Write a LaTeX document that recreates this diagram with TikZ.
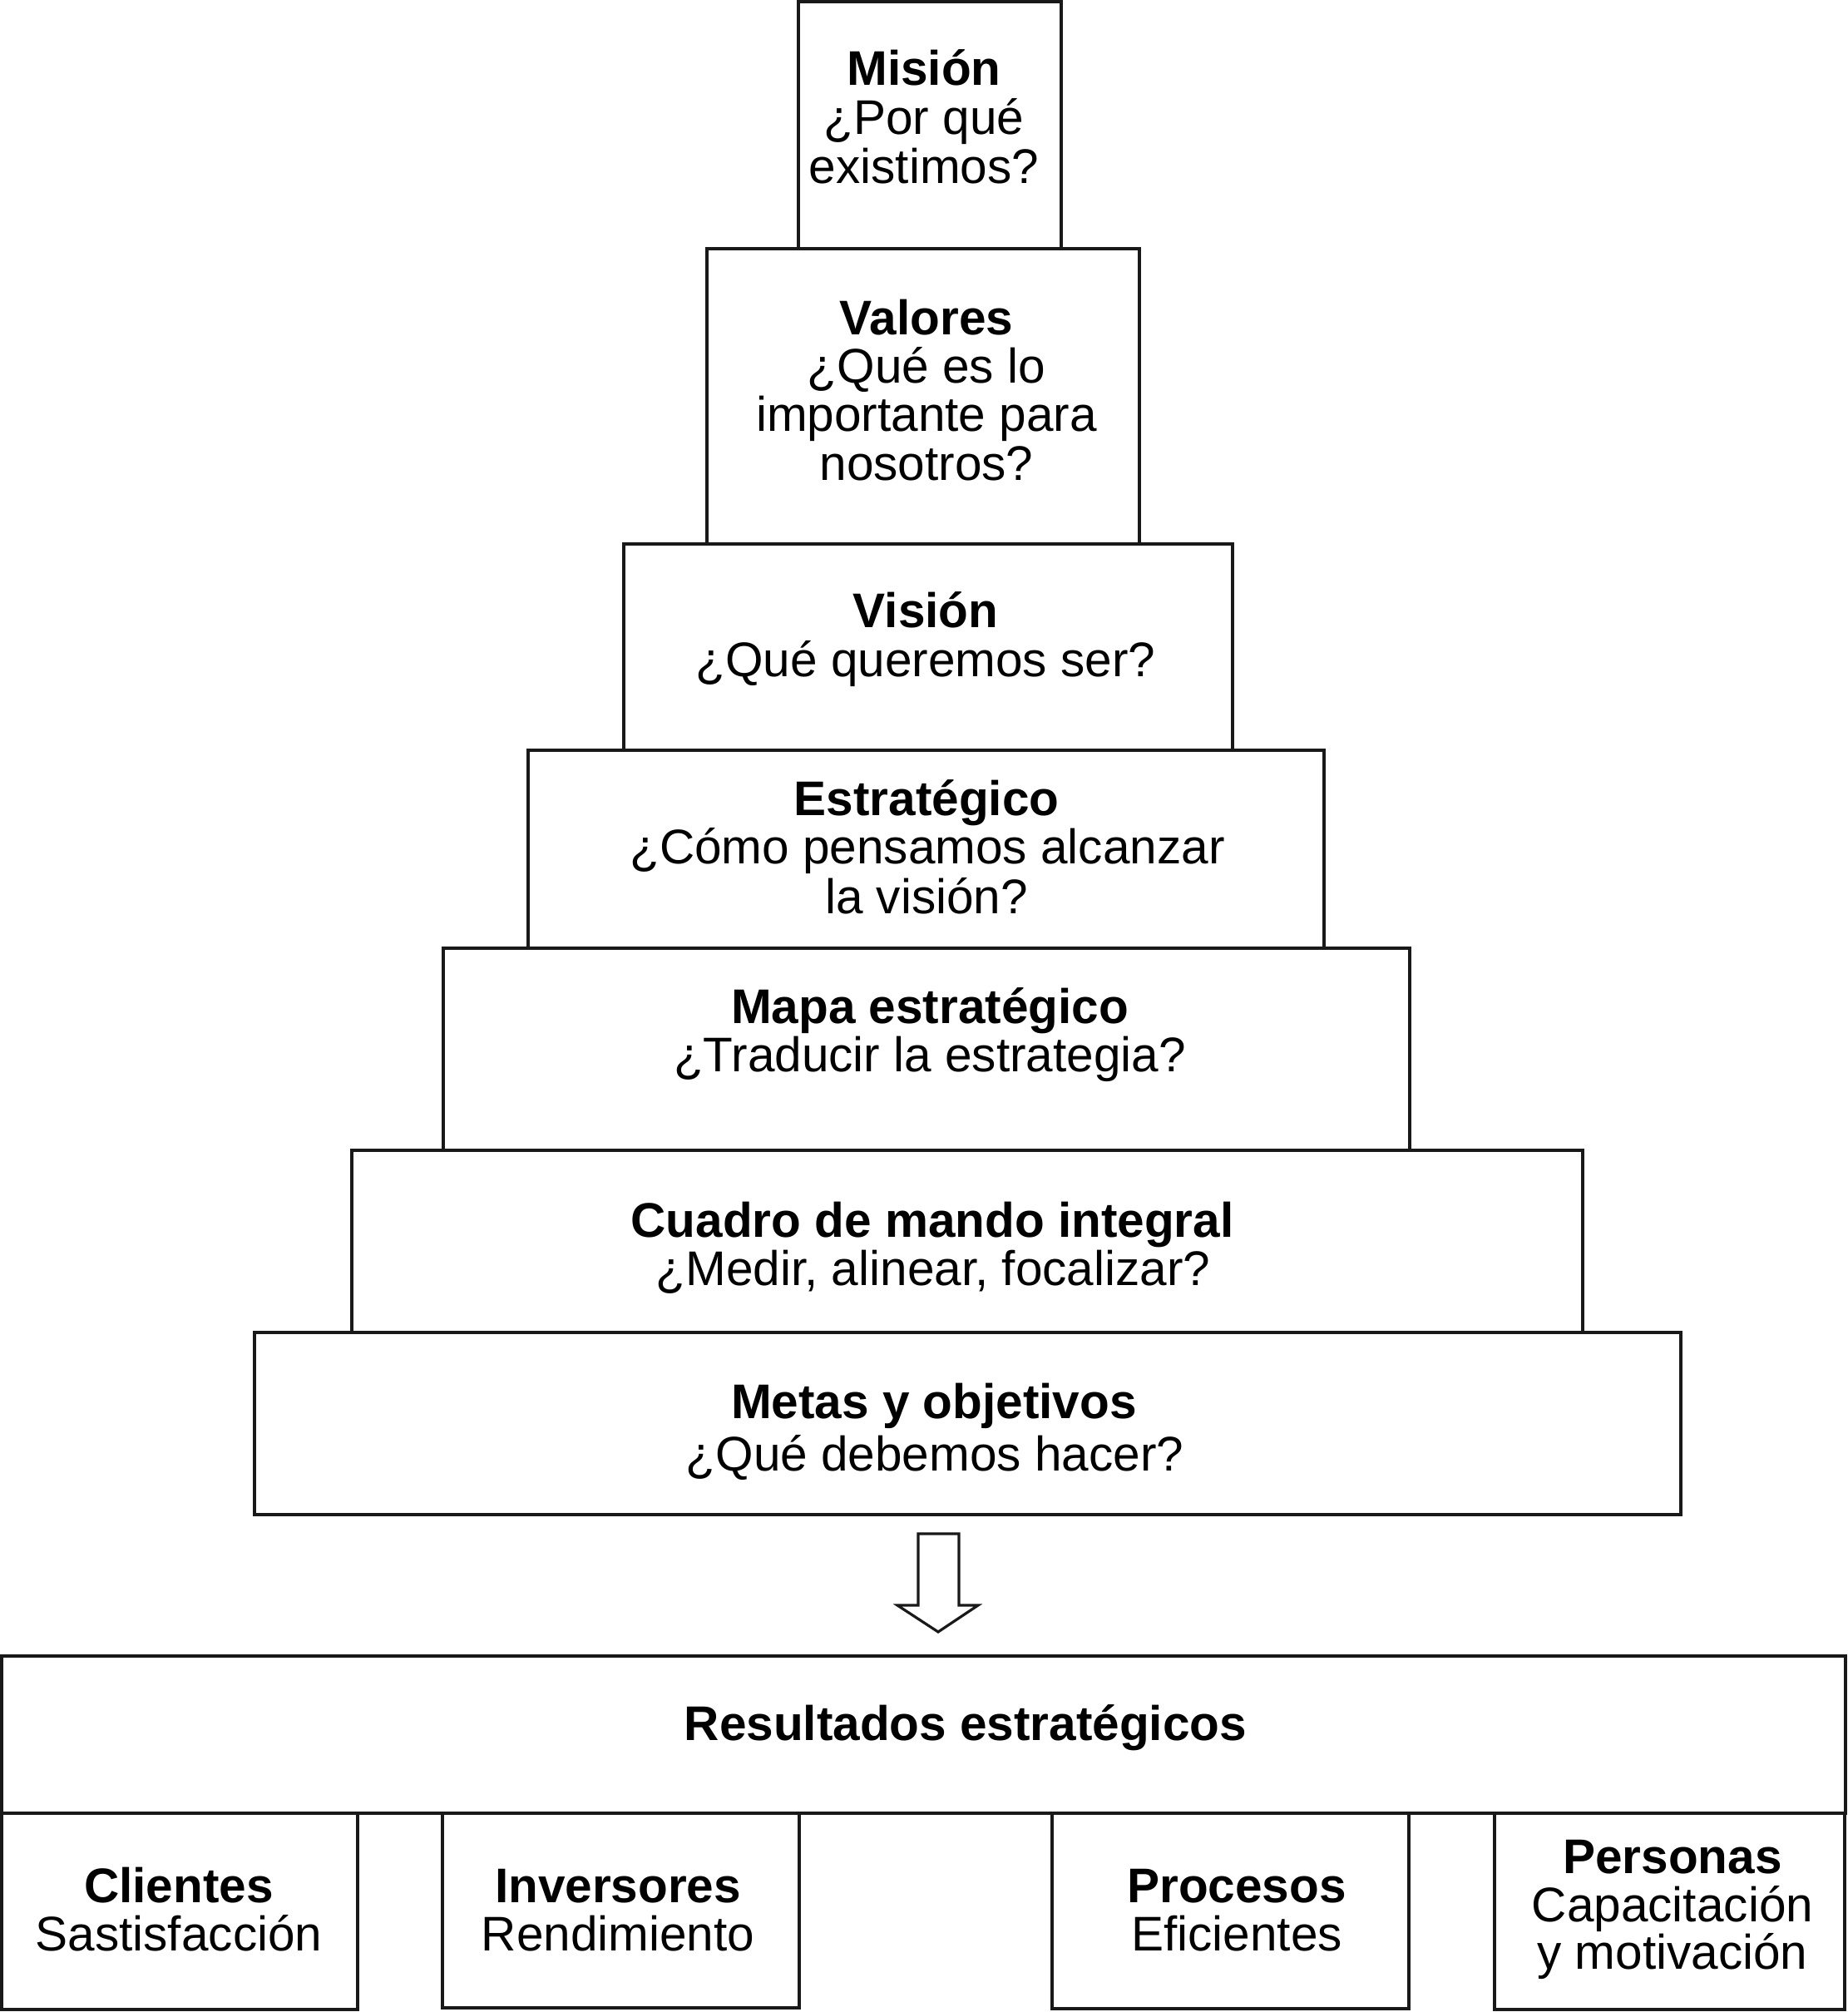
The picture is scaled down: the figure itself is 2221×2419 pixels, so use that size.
\documentclass[tikz,border=0pt]{standalone}
\usepackage{fontspec}
\setmainfont{Liberation Sans}
\usetikzlibrary{fit}
\begin{document}
\begin{tikzpicture}[x=1pt,y=-1pt,
  box/.style={draw=black!90, line width=3.2pt, inner sep=0pt, fill=white},
  txt/.style={anchor=base, inner sep=0pt, font=\fontsize{58.5}{60}\selectfont},
  ttl/.style={anchor=base, inner sep=0pt, font=\fontsize{58.5}{60}\selectfont\bfseries},
  blockarrow/.style={draw=black!90, line width=3.2pt, fill=white, line join=miter}]
\useasboundingbox (0,0) rectangle (2221,2419);

% pyramid boxes
\node[box, fit={(960,2) (1276,299)}] (mision) {};
\node[box, fit={(850,299) (1370,654)}] (valores) {};
\node[box, fit={(750,654) (1482,902)}] (vision) {};
\node[box, fit={(635,902) (1592,1140)}] (estrategico) {};
\node[box, fit={(533,1140) (1695,1383)}] (mapa) {};
\node[box, fit={(423,1383) (1903,1602)}] (cuadro) {};
\node[box, fit={(306,1602) (2021,1821)}] (metas) {};

% bottom boxes
\node[box, fit={(2,1991) (2219,2180)}] (resultados) {};
\node[box, fit={(2,2180) (430,2416)}] (clientes) {};
\node[box, fit={(532,2180) (961,2414)}] (inversores) {};
\node[box, fit={(1265,2180) (1694,2415)}] (procesos) {};
\node[box, fit={(1797,2180) (2218,2416)}] (personas) {};

% block arrow
\draw[blockarrow] (1104,1844) -- (1153,1844) -- (1153,1930) -- (1176,1930)
  -- (1128,1962) -- (1079,1930) -- (1104,1930) -- cycle;

% texts
\node[ttl] (t1a) at (1111,103) {Misión};
\node[txt] (t1b) at (1111,162) {¿Por qué};
\node[txt] (t1c) at (1111,220) {existimos?};

\node[ttl] (t2a) at (1114,402) {Valores};
\node[txt] (t2b) at (1114,460) {¿Qué es lo};
\node[txt] (t2c) at (1114,518) {importante para};
\node[txt] (t2d) at (1114,577) {nosotros?};

\node[ttl] (t3a) at (1113,754) {Visión};
\node[txt] (t3b) at (1113,813) {¿Qué queremos ser?};

\node[ttl] (t4a) at (1114,980) {Estratégico};
\node[txt] (t4b) at (1115,1038) {¿Cómo pensamos alcanzar};
\node[txt] (t4c) at (1114,1098) {la visión?};

\node[ttl] (t5a) at (1118,1230) {Mapa estratégico};
\node[txt] (t5b) at (1118,1288) {¿Traducir la estrategia?};

\node[ttl] (t6a) at (1121,1487) {Cuadro de mando integral};
\node[txt] (t6b) at (1122,1545) {¿Medir, alinear, focalizar?};

\node[ttl] (t7a) at (1123,1705) {Metas y objetivos};
\node[txt] (t7b) at (1124,1768) {¿Qué debemos hacer?};

\node[ttl] (t8a) at (1161,2092) {Resultados estratégicos};

\node[ttl] (t9a) at (215,2287) {Clientes};
\node[txt] (t9b) at (215,2345) {Sastisfacción};

\node[ttl] (t10a) at (743,2287) {Inversores};
\node[txt] (t10b) at (743,2345) {Rendimiento};

\node[ttl] (t11a) at (1487,2287) {Procesos};
\node[txt] (t11b) at (1487,2345) {Eficientes};

\node[ttl] (t12a) at (2011,2252) {Personas};
\node[txt] (t12b) at (2011,2310) {Capacitación};
\node[txt] (t12c) at (2011,2367) {y motivación};
\end{tikzpicture}
\end{document}
